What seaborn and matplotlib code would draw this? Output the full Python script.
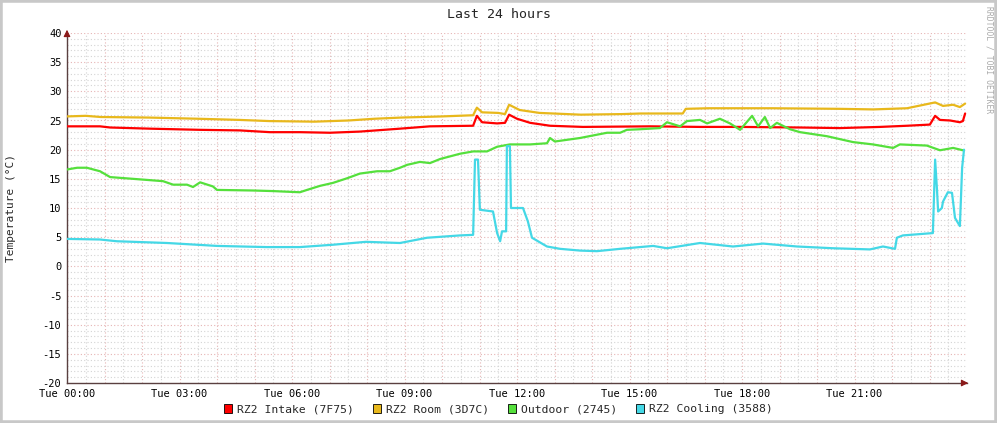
import numpy as np
import pandas as pd
import matplotlib
matplotlib.use('Agg')
import matplotlib.pyplot as plt
from matplotlib.patches import Patch, Rectangle
import seaborn as sns

# Datos (hora del dia, temperatura en grados C).
intake_t = [0, 0.88, 1.15, 2.21, 3.55, 4.61, 5.41, 6.21, 7.01, 7.81, 8.88, 9.68, 10.83, 10.93,
            11.07, 11.47, 11.68, 11.79, 12.0, 12.35, 12.88, 13.76, 15.55, 16.88, 17.95, 19.55,
            20.61, 21.68, 22.4, 23.01, 23.15, 23.28, 23.55, 23.81, 23.89, 23.95]
intake_v = [24.0, 24.0, 23.8, 23.6, 23.4, 23.3, 23.0, 23.0, 22.9, 23.1, 23.6, 24.0, 24.1, 25.8,
            24.7, 24.5, 24.6, 26.0, 25.3, 24.6, 24.1, 23.9, 24.0, 23.9, 23.9, 23.8,
            23.7, 23.9, 24.1, 24.3, 25.8, 25.1, 25.0, 24.7, 24.9, 26.2]

room_t = [0, 0.5, 0.9, 2.2, 3.5, 4.6, 5.4, 6.6, 7.5, 8.2, 8.9, 10.0, 10.83, 10.93, 11.07, 11.5,
          11.68, 11.79, 12.07, 12.6, 13.7, 14.8, 15.3, 16.42, 16.5, 17.1, 18.8, 20.6, 21.5,
          22.4, 23.15, 23.36, 23.63, 23.81, 23.95]
room_v = [25.7, 25.8, 25.6, 25.5, 25.3, 25.1, 24.9, 24.8, 25.0, 25.3, 25.5, 25.7, 25.9, 27.2,
          26.4, 26.3, 26.1, 27.7, 26.8, 26.3, 26.0, 26.1, 26.2, 26.2, 27.0, 27.1, 27.1, 27.0,
          26.9, 27.1, 28.1, 27.5, 27.7, 27.3, 27.9]

outdoor_t = [0, 0.27, 0.53, 0.88, 1.15, 1.76, 2.56, 2.83, 3.2, 3.36, 3.55, 3.89, 4.0, 4.96,
             5.49, 6.21, 6.4, 6.75, 7.09, 7.47, 7.81, 8.27, 8.61, 8.88, 9.07, 9.41, 9.68, 9.95,
             10.48, 10.83, 11.2, 11.47, 11.81, 12.35, 12.8, 12.88, 13.01, 13.68, 14.4, 14.75,
             14.93, 15.28, 15.81, 16.0, 16.35, 16.53, 16.88, 17.07, 17.41, 17.68, 17.95, 18.27,
             18.43, 18.61, 18.75, 18.93, 19.28, 19.55, 20.27, 20.96, 21.49, 22.03, 22.21, 22.93,
             23.28, 23.63, 23.89]
outdoor_v = [16.6, 16.9, 16.9, 16.3, 15.3, 15.0, 14.6, 14.0, 14.0, 13.6, 14.4, 13.7, 13.1, 13.0,
             12.9, 12.7, 13.1, 13.8, 14.3, 15.1, 15.9, 16.3, 16.3, 16.9, 17.4, 17.9, 17.7, 18.4,
             19.3, 19.7, 19.7, 20.5, 20.9, 20.9, 21.1, 22.0, 21.4, 22.0, 22.9, 22.9,
             23.4, 23.5, 23.7, 24.7, 24.0, 24.9, 25.1, 24.5, 25.3, 24.5, 23.4, 25.8,
             24.0, 25.6, 23.7, 24.6, 23.5, 23.0, 22.3, 21.3, 20.9, 20.3, 20.9, 20.7,
             19.9, 20.3, 19.9]

cooling_t = [0, 0.88, 1.33, 2.67, 4.0, 5.33, 6.21, 7.09, 7.97, 8.88, 9.6, 10.48, 10.83, 10.88,
             10.96, 11.01, 11.36, 11.47, 11.55, 11.6, 11.71, 11.73, 11.81, 11.84, 12.16, 12.29,
             12.4, 12.8, 13.15, 13.68, 14.13, 14.75, 15.63, 16.0, 16.88, 17.76, 18.56, 19.47,
             20.43, 21.41, 21.76, 22.08, 22.13, 22.29, 23.09, 23.15, 23.2, 23.23, 23.33, 23.36,
             23.49, 23.6, 23.68, 23.81, 23.87, 23.92]
cooling_v = [4.7, 4.6, 4.3, 4.0, 3.5, 3.3, 3.3, 3.7, 4.2, 4.0, 4.9, 5.3, 5.4, 18.3,
             18.3, 9.7, 9.4, 5.7, 4.3, 6.0, 6.0, 20.6, 20.6, 10.0, 10.0, 7.7,
             4.9, 3.4, 3.0, 2.7, 2.6, 3.0, 3.5, 3.1, 4.0, 3.4, 3.9, 3.4,
             3.1, 2.9, 3.4, 3.0, 4.9, 5.3, 5.7, 18.3, 13.1, 9.4, 10.0, 11.1,
             12.7, 12.6, 8.3, 6.9, 16.9, 20.0]

series_names = ['RZ2 Intake (7F75)', 'RZ2 Room (3D7C)', 'Outdoor (2745)', 'RZ2 Cooling (3588)']
series_colors = ['#ff0000', '#e8b81c', '#55e03c', '#44d8e6']
x_tick_hours = [0, 3, 6, 9, 12, 15, 18, 21]
x_tick_labels = ['Tue 00:00', 'Tue 03:00', 'Tue 06:00', 'Tue 09:00',
                 'Tue 12:00', 'Tue 15:00', 'Tue 18:00', 'Tue 21:00']

# Armo un dataframe largo para seaborn.
partes = []
for nombre, t, v in zip(series_names, [intake_t, room_t, outdoor_t, cooling_t],
                        [intake_v, room_v, outdoor_v, cooling_v]):
    partes.append(pd.DataFrame({'hora': t, 'temp': v, 'serie': nombre}))
df = pd.concat(partes, ignore_index=True)

sns.set_style('white')
plt.rcParams['font.family'] = ['DejaVu Sans Mono', 'DejaVu Sans']
plt.rcParams['axes.unicode_minus'] = False

W, H = 997, 423
fig = plt.figure(figsize=(W / 100, H / 100), dpi=100)
fig.patch.set_facecolor('white')
ax = fig.add_axes([67 / W, 40 / H, 900 / W, 350 / H])

sns.lineplot(data=df, x='hora', y='temp', hue='serie', palette=series_colors,
             estimator=None, sort=False, linewidth=1.6, legend=False, ax=ax, zorder=3)

ax.set_xlim(0, 24)
ax.set_ylim(-20, 40)
ax.set_xticks(x_tick_hours)
ax.set_xticklabels(x_tick_labels)
ax.set_yticks(np.arange(-20, 41, 5))
ax.tick_params(axis='both', which='both', length=0, labelsize=7.5, colors='black', pad=4)

# Grilla tipo rrdtool: gris fina y roja en las principales.
for h in np.arange(0.5, 24, 0.5):
    col = '#e6b4b4' if h == int(h) else '#d4d4d4'
    ax.axvline(h, color=col, lw=0.8, ls=(0, (1, 2)), zorder=1)
for yv in range(-19, 40):
    col = '#e6b4b4' if yv % 5 == 0 else '#d4d4d4'
    ax.axhline(yv, color=col, lw=0.8, ls=(0, (1, 2)), zorder=1)
ax.axhline(40, color='#e6b4b4', lw=0.8, ls=(0, (1, 2)), zorder=1)

for s in ['top', 'right']:
    ax.spines[s].set_visible(False)
for s in ['left', 'bottom']:
    ax.spines[s].set_color('#5a4040')
    ax.spines[s].set_linewidth(1.0)

# Flechitas de los ejes.
ax.annotate('', xy=(971 / W, 1 - 383 / H), xycoords='figure fraction',
            xytext=(960 / W, 1 - 383 / H), arrowprops=dict(arrowstyle='-|>', color='#8b1a1a', lw=0.8))
ax.annotate('', xy=(67 / W, 1 - 27 / H), xycoords='figure fraction',
            xytext=(67 / W, 1 - 37 / H), arrowprops=dict(arrowstyle='-|>', color='#8b1a1a', lw=0.8))

ax.set_xlabel('')
ax.set_ylabel('')
fig.text(11 / W, 1 - 208 / H, 'Temperature (°C)', rotation=90, ha='center', va='center', fontsize=8)

fig.text(0.5, 1 - 14 / H, 'Last 24 hours', ha='center', va='center', fontsize=9.5)
fig.text(989 / W, 1 - 6 / H, 'RRDTOOL / TOBI OETIKER', rotation=270, ha='center', va='top',
         fontsize=5.8, color='#aaaaaa')

handles = [Patch(facecolor=c, edgecolor='black', linewidth=0.6) for c in series_colors]
fig.legend(handles, series_names, loc='center', bbox_to_anchor=(0.5, 1 - 409 / H), ncol=4,
           frameon=False, fontsize=8.2, handlelength=0.7, handleheight=0.9, handletextpad=0.4,
           columnspacing=1.7, borderaxespad=0)

# Marco gris alrededor de la imagen.
fig.patches.append(Rectangle((0, 0), 1, 1, transform=fig.transFigure, fill=False,
                             edgecolor='#c8c8c8', linewidth=4, zorder=10))

fig.savefig('out.png', dpi=100, facecolor='white')
